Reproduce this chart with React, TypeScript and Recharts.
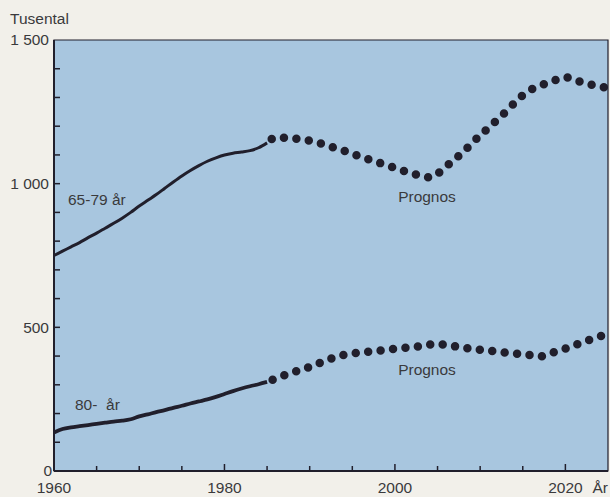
import React from 'react';
import {
  LineChart,
  Line,
  XAxis,
  YAxis,
  CartesianGrid,
  ReferenceArea,
} from 'recharts';

const INK = '#211f2c';
const TEXT = '#3a3a3c';
const PLOT_BG = '#a8c6df';
const PAGE_BG = '#f2f0ea';
const FONT = '"Liberation Sans", Arial, sans-serif';

// historical years (solid lines)
const histYears = [
  1960, 1961, 1962, 1963, 1964, 1965, 1966, 1967, 1968, 1969, 1970, 1971, 1972,
  1973, 1974, 1975, 1976, 1977, 1978, 1979, 1980, 1981, 1982, 1983, 1984, 1985,
];
const hist6579 = [
  750, 765, 780, 795, 812, 828, 845, 862, 880, 900, 922, 942, 962,
  984, 1006, 1027, 1046, 1063, 1078, 1090, 1100, 1106, 1110, 1115, 1125, 1142,
];
const hist80 = [
  134, 146, 152, 156, 160, 164, 168, 172, 175, 180, 190, 197, 205,
  212, 220, 227, 235, 242, 249, 258, 268, 278, 287, 295, 302, 310,
];

// prognosis years (dotted lines)
const progYears = [
  1985, 1986, 1987, 1988, 1989, 1990, 1991, 1992, 1993, 1994, 1995, 1996, 1997,
  1998, 1999, 2000, 2001, 2002, 2003, 2004, 2005, 2006, 2007, 2008, 2009, 2010,
  2011, 2012, 2013, 2014, 2015, 2016, 2017, 2018, 2019, 2020, 2021, 2022, 2023,
  2024, 2025,
];
const prog6579 = [
  1142, 1160, 1160, 1157, 1155, 1150, 1143, 1133, 1124, 1115, 1104, 1094, 1084,
  1074, 1065, 1055, 1045, 1035, 1028, 1022, 1035, 1060, 1085, 1110, 1140, 1168,
  1195, 1222, 1250, 1280, 1308, 1328, 1340, 1352, 1362, 1370, 1362, 1352, 1345,
  1338, 1333,
];
const prog80 = [
  310, 322, 333, 343, 352, 362, 374, 386, 396, 404, 409, 413, 415,
  418, 422, 425, 428, 431, 435, 440, 442, 439, 434, 429, 425, 422,
  419, 415, 412, 409, 406, 403, 399, 405, 418, 426, 437, 448, 458,
  468, 475,
];

const xTicks = [1960, 1965, 1970, 1975, 1980, 1985, 1990, 1995, 2000, 2005, 2010, 2015, 2020];
const yTicks = [0, 100, 200, 300, 400, 500, 600, 700, 800, 900, 1000, 1100, 1200, 1300, 1400, 1500];

type Row = { year: number; h6579?: number; h80?: number; p6579?: number; p80?: number };

const rowsByYear: Record<number, Row> = {};
histYears.forEach((y, i) => {
  rowsByYear[y] = { ...(rowsByYear[y] || { year: y }), h6579: hist6579[i], h80: hist80[i] };
});
progYears.forEach((y, i) => {
  rowsByYear[y] = { ...(rowsByYear[y] || { year: y }), p6579: prog6579[i], p80: prog80[i] };
});
const data = Object.values(rowsByYear).sort((a, b) => a.year - b.year);

const fmtY = (v: number) => (v >= 1000 ? `${Math.floor(v / 1000)} ${String(v % 1000).padStart(3, '0')}` : String(v));

const textStyle = { fontFamily: FONT, fontSize: 15.5, fill: TEXT };

const XTick = (props: any) => {
  const { x, y, payload } = props;
  const yr = payload.value as number;
  const major = yr % 20 === 0;
  return (
    <g>
      {yr > 1960 && (
        <line x1={x} x2={x} y1={y} y2={y - (major ? 7 : 5)} stroke={INK} strokeWidth={1.5} />
      )}
      {major && (
        <text x={x} y={y + 17} dy="0.35em" textAnchor="middle" style={textStyle}>
          {yr}
        </text>
      )}
      {yr === 2020 && (
        <text x={x + 27} y={y + 17} dy="0.35em" textAnchor="start" style={textStyle}>
          År
        </text>
      )}
    </g>
  );
};

const YTick = (props: any) => {
  const { x, y, payload } = props;
  const v = payload.value as number;
  const major = v % 500 === 0;
  return (
    <g>
      {v > 0 && v < 1500 && (
        <line x1={x} x2={x + 6} y1={y} y2={y} stroke={INK} strokeWidth={1.5} />
      )}
      {major && (
        <text x={x - (v === 0 ? 2 : 5)} y={y} dy="0.35em" textAnchor="end" style={textStyle}>
          {fmtY(v)}
        </text>
      )}
    </g>
  );
};

export default function App() {
  return (
    <div
      style={{
        position: 'absolute',
        left: 0,
        top: 0,
        width: 610,
        height: 497,
        background: PAGE_BG,
      }}
    >
      <LineChart
        width={610}
        height={497}
        data={data}
        margin={{ top: 40, right: 2, bottom: 0, left: 0 }}
      >
        <CartesianGrid horizontal={false} vertical={false} fill={PLOT_BG} />
        <ReferenceArea
          x1={1960}
          x2={2025}
          y1={0}
          y2={1500}
          fill="none"
          stroke={INK}
          strokeWidth={1.2}
          ifOverflow="extendDomain"
        />
        <XAxis
          dataKey="year"
          type="number"
          domain={[1960, 2025]}
          ticks={xTicks}
          interval={0}
          height={26}
          tickSize={0}
          tickMargin={0}
          tickLine={false}
          axisLine={{ stroke: INK, strokeWidth: 2 }}
          tick={<XTick />}
        />
        <YAxis
          type="number"
          domain={[0, 1500]}
          ticks={yTicks}
          interval={0}
          width={54}
          tickSize={0}
          tickMargin={0}
          tickLine={false}
          axisLine={{ stroke: INK, strokeWidth: 2 }}
          tick={<YTick />}
        />
        <Line
          dataKey="h6579"
          type="monotone"
          stroke={INK}
          strokeWidth={3}
          dot={false}
          activeDot={false}
          isAnimationActive={false}
        />
        <Line
          dataKey="h80"
          type="monotone"
          stroke={INK}
          strokeWidth={3.8}
          dot={false}
          activeDot={false}
          isAnimationActive={false}
        />
        <Line
          dataKey="p6579"
          type="monotone"
          stroke={INK}
          strokeWidth={8.5}
          strokeLinecap="round"
          strokeDasharray="0 12.5"
          strokeDashoffset={6.5}
          dot={false}
          activeDot={false}
          isAnimationActive={false}
        />
        <Line
          dataKey="p80"
          type="monotone"
          stroke={INK}
          strokeWidth={8.5}
          strokeLinecap="round"
          strokeDasharray="0 12.5"
          strokeDashoffset={6.5}
          dot={false}
          activeDot={false}
          isAnimationActive={false}
        />
      </LineChart>
      <svg
        width={610}
        height={497}
        style={{ position: 'absolute', left: 0, top: 0, pointerEvents: 'none' }}
      >
        <text x={10} y={19} dy="0.35em" style={textStyle}>Tusental</text>
        <text x={68} y={200} dy="0.35em" style={textStyle}>65-79 år</text>
        <text x={75} y={405} dy="0.35em" style={textStyle} xmlSpace="preserve">80-  år</text>
        <text x={427} y={197} dy="0.35em" textAnchor="middle" style={textStyle}>Prognos</text>
        <text x={427} y={370} dy="0.35em" textAnchor="middle" style={textStyle}>Prognos</text>
      </svg>
    </div>
  );
}
